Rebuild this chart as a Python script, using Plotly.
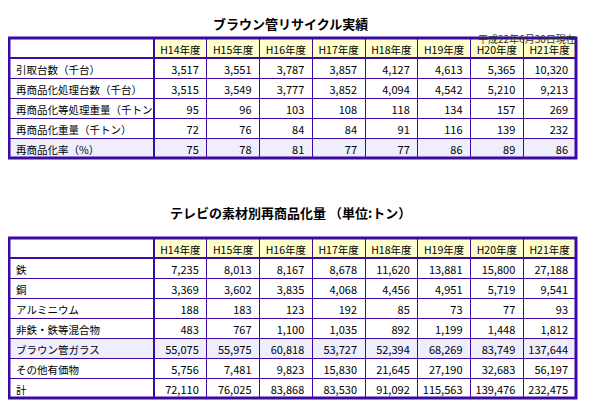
import plotly.graph_objects as go

years = ["H14年度", "H15年度", "H16年度", "H17年度", "H18年度", "H19年度", "H20年度", "H21年度"]

# ブラウン管リサイクル実績
top_rows = ["引取台数（千台）", "再商品化処理台数（千台）", "再商品化等処理重量（千トン）",
            "再商品化重量（千トン）", "再商品化率（%）"]
hikitori = [3517, 3551, 3787, 3857, 4127, 4613, 5365, 10320]
shori_daisu = [3515, 3549, 3777, 3852, 4094, 4542, 5210, 9213]
shori_juryo = [95, 96, 103, 108, 118, 134, 157, 269]
saishohin_juryo = [72, 76, 84, 84, 91, 116, 139, 232]
saishohin_ritsu = [75, 78, 81, 77, 77, 86, 89, 86]
top_values = [hikitori, shori_daisu, shori_juryo, saishohin_juryo, saishohin_ritsu]

# テレビの素材別再商品化量
bot_rows = ["鉄", "銅", "アルミニウム", "非鉄・鉄等混合物", "ブラウン管ガラス", "その他有価物", "計"]
tetsu = [7235, 8013, 8167, 8678, 11620, 13881, 15800, 27188]
dou = [3369, 3602, 3835, 4068, 4456, 4951, 5719, 9541]
alumi = [188, 183, 123, 192, 85, 73, 77, 93]
kongo = [483, 767, 1100, 1035, 892, 1199, 1448, 1812]
glass = [55075, 55975, 60818, 53727, 52394, 68269, 83749, 137644]
sonota = [5756, 7481, 9823, 15830, 21645, 27190, 32683, 56197]
kei = [72110, 76025, 83868, 83530, 91092, 115563, 139476, 232475]
bot_values = [tetsu, dou, alumi, kongo, glass, sonota, kei]

# page body has an 8px margin, so the figure is drawn a bit smaller
W, H = 584, 392
ROW = 20
X0, X1, XC = 0, 568, 146
LINE = "#3c0aa0"
FONT = dict(family="Noto Sans CJK JP", size=11, color="black")


def make_table(rows, values, hl_row, top_px):
    cols = [rows] + [[f"{v[i]:,}" for v in values] for i in range(len(years))]
    fills = []
    for c in range(len(cols)):
        fills.append(["#eeeefc" if r == hl_row else "white" for r in range(len(rows))])
    return go.Table(
        domain=dict(x=[X0 / W, X1 / W], y=[0, 1 - top_px / H]),
        columnwidth=[XC - X0] + [(X1 - XC) / 8] * 8,
        header=dict(values=[""] + years, height=ROW,
                    fill_color=["white"] + ["#ffffcc"] * 8,
                    line=dict(color=LINE, width=1),
                    align="center", font=dict(FONT, size=10.5)),
        cells=dict(values=cols, height=ROW, fill_color=fills,
                   line=dict(color=LINE, width=1),
                   align=["left"] + ["right"] * 8,
                   font=dict(FONT, size=[10.5] + [11] * 8)),
    )


fig = go.Figure()
fig.add_trace(make_table(top_rows, top_values, 4, 30))
fig.add_trace(make_table(bot_rows, bot_values, 4, 230))

# thick outer borders
for y0, n in [(30, 6), (230, 8)]:
    y1 = y0 + n * ROW
    fig.add_shape(type="rect", xref="paper", yref="paper",
                  x0=(X0 + 1) / W, x1=X1 / W, y0=1 - y1 / H, y1=1 - y0 / H,
                  line=dict(color=LINE, width=3))
    fig.add_shape(type="line", xref="paper", yref="paper",
                  x0=X0 / W, x1=X1 / W, y0=1 - (y0 + ROW) / H, y1=1 - (y0 + ROW) / H,
                  line=dict(color=LINE, width=2))
    fig.add_shape(type="line", xref="paper", yref="paper",
                  x0=XC / W, x1=XC / W, y0=1 - y1 / H, y1=1 - y0 / H,
                  line=dict(color=LINE, width=2))

title_font = dict(family="Noto Sans CJK JP", size=13, color="black")
fig.add_annotation(text="<b>ブラウン管リサイクル実績</b>", x=282 / W, y=1 - 4 / H,
                   xref="paper", yref="paper", showarrow=False, font=title_font)
fig.add_annotation(text="平成22年6月30日現在", x=570 / W, y=1 - 21 / H, xanchor="right",
                   xref="paper", yref="paper", showarrow=False,
                   font=dict(family="Noto Sans CJK JP", size=10, color="#333333"))
fig.add_annotation(text="<b>テレビの素材別再商品化量 （単位:トン）</b>", x=282 / W, y=1 - 204 / H,
                   xref="paper", yref="paper", showarrow=False, font=title_font)

fig.update_layout(width=W, height=H, margin=dict(l=0, r=0, t=0, b=0),
                  paper_bgcolor="white", plot_bgcolor="white")
fig.write_html("out.html")
